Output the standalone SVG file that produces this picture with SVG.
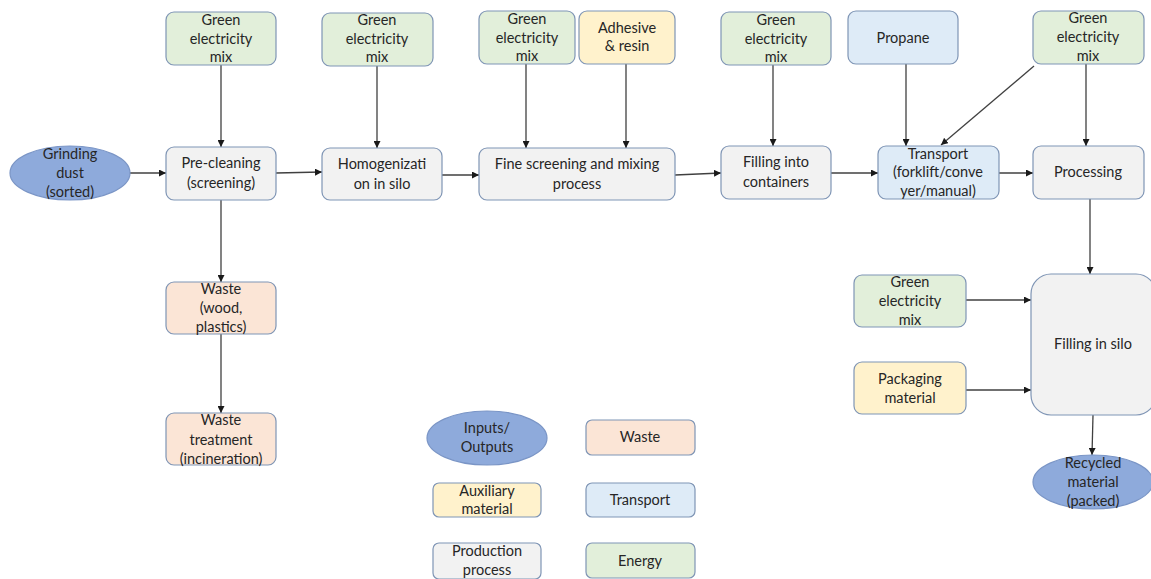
<svg xmlns="http://www.w3.org/2000/svg" width="1151" height="579" viewBox="0 0 1151 579">
  <style>
    text { font-family: Lato, "Liberation Sans", sans-serif; font-size: 14.5px; fill: #262626; text-anchor: middle; }
    .box { stroke: #7f95b5; stroke-width: 1.2; }
    .energy { fill: #e2efda; }
    .aux { fill: #fff2cc; }
    .proc { fill: #f2f2f2; }
    .waste { fill: #fbe5d6; }
    .trans { fill: #deebf7; }
    .io { fill: #8eaadb; stroke: #7a95c6; stroke-width: 1.2; }
    .conn line { stroke: #404040; stroke-width: 1.3; marker-end: url(#arrow); }
  </style>
  <defs>
    <marker id="arrow" viewBox="0 0 10 10" refX="10" refY="5" markerWidth="7" markerHeight="7" markerUnits="userSpaceOnUse" orient="auto">
      <path d="M0,0 L10,5 L0,10 z" fill="#1a1a1a"/>
    </marker>
  </defs>
  <rect width="1151" height="579" fill="#ffffff"/>

  <!-- connectors -->
  <g id="connectors" class="conn">
    <line x1="221" y1="65" x2="221" y2="147"/>
    <line x1="377" y1="66" x2="377" y2="148"/>
    <line x1="526" y1="64" x2="526" y2="148"/>
    <line x1="626" y1="64" x2="626" y2="148"/>
    <line x1="773" y1="65" x2="773" y2="146"/>
    <line x1="906" y1="64" x2="906" y2="146"/>
    <line x1="1034" y1="66" x2="941" y2="145"/>
    <line x1="1086" y1="64" x2="1086" y2="146"/>
    <line x1="130" y1="173" x2="166" y2="173"/>
    <line x1="276" y1="173" x2="322" y2="172"/>
    <line x1="442" y1="175" x2="479" y2="175"/>
    <line x1="675" y1="175" x2="721" y2="173"/>
    <line x1="831" y1="173" x2="878" y2="173"/>
    <line x1="990" y1="173" x2="1033" y2="173"/>
    <line x1="1090" y1="199" x2="1090" y2="274"/>
    <line x1="221" y1="200" x2="221" y2="282"/>
    <line x1="221" y1="334" x2="221" y2="413"/>
    <line x1="966" y1="300" x2="1031" y2="300"/>
    <line x1="966" y1="390" x2="1031" y2="390"/>
    <line x1="1093" y1="415" x2="1092" y2="455"/>
  </g>

  <!-- top row: inputs -->
  <g id="energy1"><rect class="box energy" x="166" y="12" width="110" height="53" rx="8"/>
    <text x="221" y="25">Green</text><text x="221" y="44">electricity</text><text x="221" y="62">mix</text></g>
  <g id="energy2"><rect class="box energy" x="322" y="13" width="111" height="53" rx="8"/>
    <text x="377" y="25">Green</text><text x="377" y="44">electricity</text><text x="377" y="62">mix</text></g>
  <g id="energy3"><rect class="box energy" x="479" y="11" width="96" height="53" rx="8"/>
    <text x="527" y="24">Green</text><text x="527" y="43">electricity</text><text x="527" y="61">mix</text></g>
  <g id="adhesive"><rect class="box aux" x="579" y="11" width="96" height="53" rx="8"/>
    <text x="627" y="33">Adhesive</text><text x="627" y="51">&amp; resin</text></g>
  <g id="energy4"><rect class="box energy" x="721" y="12" width="110" height="53" rx="8"/>
    <text x="776" y="25">Green</text><text x="776" y="44">electricity</text><text x="776" y="62">mix</text></g>
  <g id="propane"><rect class="box trans" x="848" y="11" width="110" height="53" rx="8"/>
    <text x="903" y="43">Propane</text></g>
  <g id="energy5"><rect class="box energy" x="1033" y="11" width="111" height="53" rx="8"/>
    <text x="1088" y="23">Green</text><text x="1088" y="42">electricity</text><text x="1088" y="61">mix</text></g>

  <!-- main process line -->
  <g id="grinding"><ellipse class="io" cx="70" cy="173" rx="60" ry="27"/>
    <text x="70" y="159">Grinding</text><text x="70" y="178">dust</text><text x="70" y="197">(sorted)</text></g>
  <g id="precleaning"><rect class="box proc" x="166" y="147" width="110" height="53" rx="8"/>
    <text x="221" y="168">Pre-cleaning</text><text x="221" y="188">(screening)</text></g>
  <g id="homogenization"><rect class="box proc" x="322" y="148" width="120" height="52" rx="8"/>
    <text x="382" y="169">Homogenizati</text><text x="382" y="189">on in silo</text></g>
  <g id="finescreening"><rect class="box proc" x="479" y="148" width="196" height="52" rx="8"/>
    <text x="577" y="169">Fine screening and mixing</text><text x="577" y="189">process</text></g>
  <g id="fillingcontainers"><rect class="box proc" x="721" y="146" width="110" height="53" rx="8"/>
    <text x="776" y="167">Filling into</text><text x="776" y="187">containers</text></g>
  <g id="transport"><rect class="box trans" x="878" y="146" width="121" height="53" rx="8"/>
    <text x="938" y="159">Transport</text><text x="938" y="177">(forklift/conve</text><text x="938" y="196">yer/manual)</text></g>
  <g id="processing"><rect class="box proc" x="1033" y="146" width="111" height="53" rx="8"/>
    <text x="1088" y="177">Processing</text></g>

  <!-- waste branch -->
  <g id="waste"><rect class="box waste" x="166" y="282" width="110" height="52" rx="8"/>
    <text x="221" y="294">Waste</text><text x="221" y="313">(wood,</text><text x="221" y="332">plastics)</text></g>
  <g id="wastetreatment"><rect class="box waste" x="166" y="413" width="110" height="52" rx="8"/>
    <text x="221" y="425">Waste</text><text x="221" y="445">treatment</text><text x="221" y="464">(incineration)</text></g>

  <!-- silo filling -->
  <g id="energy6"><rect class="box energy" x="854" y="275" width="112" height="52" rx="8"/>
    <text x="910" y="287">Green</text><text x="910" y="306">electricity</text><text x="910" y="325">mix</text></g>
  <g id="packaging"><rect class="box aux" x="854" y="362" width="112" height="52" rx="8"/>
    <text x="910" y="384">Packaging</text><text x="910" y="403">material</text></g>
  <g id="fillingsilo"><rect class="box proc" x="1031" y="274" width="125" height="141" rx="20"/>
    <text x="1093" y="349">Filling in silo</text></g>
  <g id="recycled"><ellipse class="io" cx="1093" cy="482" rx="60" ry="27"/>
    <text x="1093" y="468">Recycled</text><text x="1093" y="487">material</text><text x="1093" y="506">(packed)</text></g>

  <!-- legend -->
  <g id="legend-io"><ellipse class="io" cx="487" cy="438" rx="60" ry="27"/>
    <text x="487" y="433">Inputs/</text><text x="487" y="452">Outputs</text></g>
  <g id="legend-waste"><rect class="box waste" x="586" y="420" width="109" height="35" rx="6"/>
    <text x="640" y="442">Waste</text></g>
  <g id="legend-aux"><rect class="box aux" x="433" y="483" width="108" height="34" rx="6"/>
    <text x="487" y="496">Auxiliary</text><text x="487" y="514">material</text></g>
  <g id="legend-transport"><rect class="box trans" x="586" y="483" width="109" height="34" rx="6"/>
    <text x="640" y="505">Transport</text></g>
  <g id="legend-process"><rect class="box proc" x="433" y="543" width="108" height="36" rx="6"/>
    <text x="487" y="556">Production</text><text x="487" y="575">process</text></g>
  <g id="legend-energy"><rect class="box energy" x="586" y="543" width="109" height="35" rx="6"/>
    <text x="640" y="566">Energy</text></g>
</svg>
